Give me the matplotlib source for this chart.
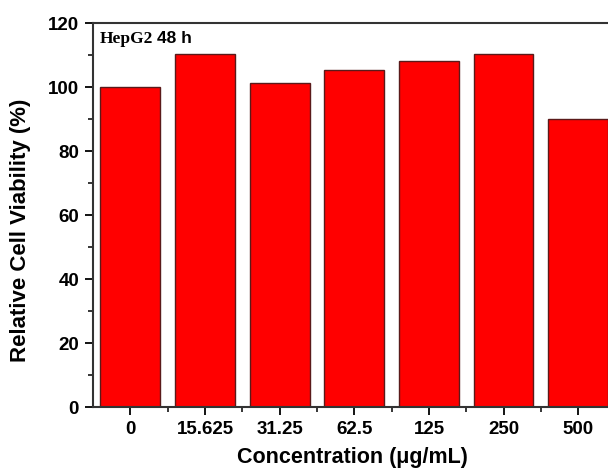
import matplotlib.pyplot as plt
from matplotlib.ticker import MultipleLocator, FixedLocator

concentrations = ['0', '15.625', '31.25', '62.5', '125', '250', '500']
viability = [100.1, 110.4, 101.5, 105.4, 108.2, 110.4, 90.0]

plt.rcParams['font.family'] = ['Liberation Sans', 'DejaVu Sans']
plt.rcParams['font.weight'] = 'bold'

fig = plt.figure(figsize=(6.08, 4.71), dpi=100)
W, H = 608, 471
ax = fig.add_axes([93 / W, (H - 407.3) / H, (615.6 - 93) / W, (407.3 - 23.3) / H])

x = range(len(concentrations))
ax.bar(x, viability, width=0.8, color='#ff0000', edgecolor='#5a1a1a', linewidth=1.0)

ax.set_xlim(-0.5, len(concentrations) - 0.5)
ax.set_ylim(0, 120)
ax.set_xticks(list(x))
ax.set_xticklabels(concentrations)
ax.xaxis.set_minor_locator(FixedLocator([i + 0.5 for i in range(len(concentrations) - 1)]))
ax.yaxis.set_major_locator(MultipleLocator(20))
ax.yaxis.set_minor_locator(MultipleLocator(10))

for s in ax.spines.values():
    s.set_linewidth(1.5)
    s.set_color('#333333')

ax.tick_params(which='major', direction='out', length=6, width=1.3, labelsize=13.5, pad=4)
ax.tick_params(which='minor', direction='out', length=3.5, width=1.1)
ax.tick_params(axis='y', which='both', right=False)
ax.tick_params(axis='x', which='both', top=False)
for lbl in ax.get_xticklabels() + ax.get_yticklabels():
    lbl.set_fontweight('bold')

ax.set_xlabel('Concentration (\u03bcg/mL)', fontsize=15.5, fontweight='bold')
ax.set_ylabel('Relative Cell Viability (%)', fontsize=16, fontweight='bold')
ax.xaxis.set_label_coords(0.4956, -0.103)
ax.yaxis.set_label_coords(-0.119, 0.462)

ax.text(0.013, 0.9487, 'HepG2', transform=ax.transAxes, ha='left', va='baseline',
        family='Liberation Serif', fontsize=12.5, fontweight='bold')
ax.text(0.1217, 0.9487, '48 h', transform=ax.transAxes, ha='left', va='baseline',
        fontsize=12.5, fontweight='bold')

fig.savefig('out.png', dpi=100)
